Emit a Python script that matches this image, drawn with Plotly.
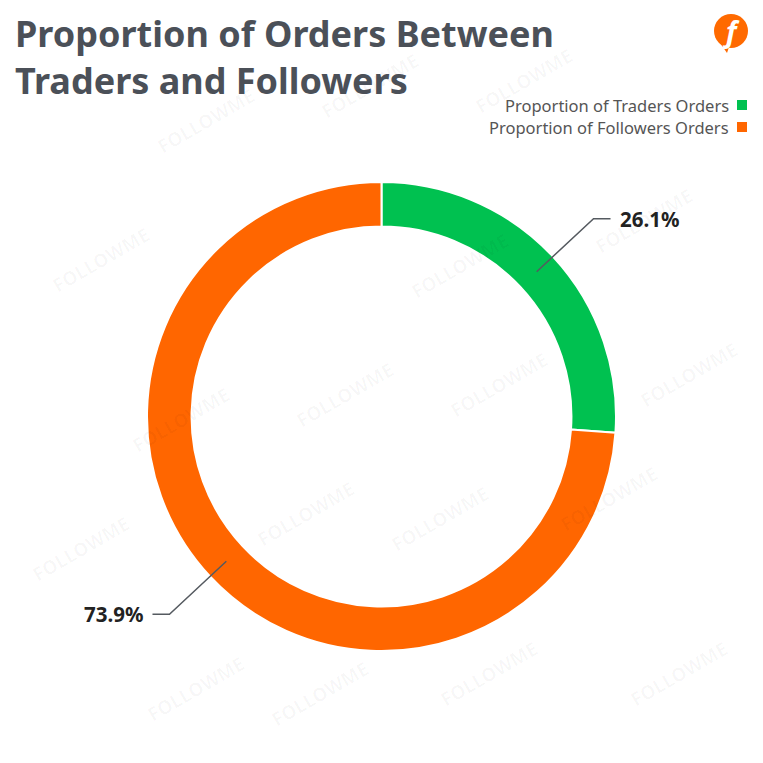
import math
import plotly.graph_objects as go

# ---- data ----
categories = ["Proportion of Traders Orders", "Proportion of Followers Orders"]
values = [26.1, 73.9]
label_texts = ["26.1%", "73.9%"]
colors = ["#00c150", "#ff6600"]
title_text = "Proportion of Orders Between<br>Traders and Followers"
watermark = "FOLLOWME"

W = H = 763
def px(x):
    return x / W
def py(y):
    return 1 - y / H

# ring geometry (pixels)
CX, CY, R = 381.5, 416.5, 234.5
HOLE = 0.81

fig = go.Figure()
fig.add_trace(go.Pie(
    labels=categories, values=values, hole=HOLE, sort=False,
    direction="clockwise", rotation=0,
    marker=dict(colors=colors, line=dict(color="white", width=2)),
    textinfo="none", hoverinfo="label+percent", showlegend=False,
    domain=dict(x=[px(CX - R), px(CX + R)], y=[py(CY + R), py(CY - R)]),
))

shapes = []
annotations = []

# watermarks
wm_pos = [(150, 80), (370, 45), (580, 40), (700, 180), (45, 260), (460, 225),
          (345, 395), (125, 420), (555, 385), (745, 375), (250, 555), (440, 560),
          (665, 540), (25, 590), (140, 730), (320, 735), (545, 715), (735, 715)]
for (x, y) in wm_pos:
    annotations.append(dict(x=px(x), y=py(y), xref="paper", yref="paper", text=watermark,
                            showarrow=False, textangle=-30,
                            font=dict(family="Noto Sans", size=19, color="rgba(0,0,0,0.03)", weight="bold")))

# title
annotations.append(dict(x=px(13), y=py(57), xref="paper", yref="paper", text=title_text,
                        showarrow=False, xanchor="left", yanchor="middle", align="left",
                        font=dict(family="Noto Sans", size=36, color="#4b5058", weight="bold")))

# leader lines + labels computed from values
total = sum(values)
cum = 0
r_in = (R * HOLE + R) / 2
for v, t in zip(values, label_texts):
    mid = (cum + v / 2) / total * 2 * math.pi
    cum += v
    sx, sy = CX + r_in * math.sin(mid), CY - r_in * math.cos(mid)
    ex, ey = CX + 290 * math.sin(mid), CY - 290 * math.cos(mid)
    side = 1 if math.sin(mid) >= 0 else -1
    hx = ex + side * 17
    shapes.append(dict(type="path", xref="paper", yref="paper",
                       path=f"M {px(sx)},{py(sy)} L {px(ex)},{py(ey)} L {px(hx)},{py(ey)}",
                       line=dict(color="#555a60", width=1.5)))
    annotations.append(dict(x=px(hx + side * 7), y=py(ey), xref="paper", yref="paper", text=t,
                            showarrow=False, xanchor="left" if side > 0 else "right", yanchor="middle",
                            font=dict(family="Noto Sans", size=20.5, color="#222222", weight="bold")))

# custom legend (text left of marker, right aligned)
for i, (c, col) in enumerate(zip(categories, colors)):
    yy = 105 + i * 22
    annotations.append(dict(x=px(731), y=py(yy), xref="paper", yref="paper", text=c,
                            showarrow=False, xanchor="right", yanchor="middle",
                            font=dict(family="Noto Sans", size=16.5, color="#555555")))
    shapes.append(dict(type="rect", xref="paper", yref="paper",
                       x0=px(737), x1=px(747), y0=py(yy - 5), y1=py(yy + 5),
                       fillcolor=col, line=dict(width=0)))

# logo
shapes.append(dict(type="circle", xref="paper", yref="paper",
                   x0=px(714), x1=px(748), y0=py(48), y1=py(14),
                   fillcolor="#ff6a00", line=dict(width=0)))
shapes.append(dict(type="path", xref="paper", yref="paper",
                   path=f"M {px(718)},{py(40)} L {px(727)},{py(53)} L {px(730)},{py(44)} Z",
                   fillcolor="#ff6a00", line=dict(width=0)))
annotations.append(dict(x=px(731), y=py(31), xref="paper", yref="paper", text="<i>f</i>",
                        showarrow=False, xanchor="center", yanchor="middle",
                        font=dict(family="Noto Sans", size=28, color="white", weight="bold")))

fig.update_layout(
    width=W, height=H,
    margin=dict(l=0, r=0, t=0, b=0),
    paper_bgcolor="white", plot_bgcolor="white",
    shapes=shapes, annotations=annotations,
)

fig.write_html("out.html", config={"displayModeBar": False},
               post_script="document.body.style.margin='0';document.body.style.overflow='hidden';")
